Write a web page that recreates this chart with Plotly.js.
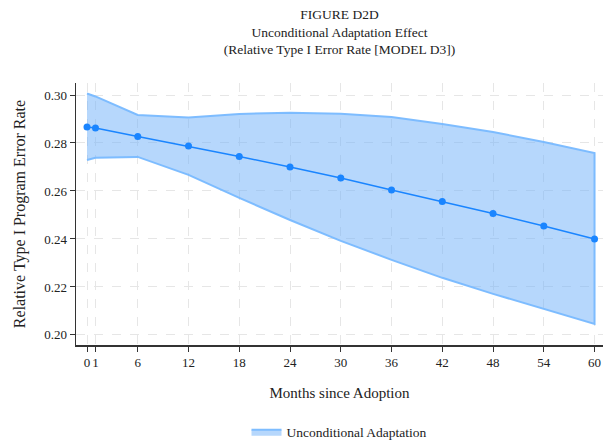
<!DOCTYPE html>
<html><head><meta charset="utf-8">
<script src="https://cdn.plot.ly/plotly-3.0.1.min.js"></script>
<style>body{margin:0;padding:0;background:#fff}#chart{width:604px;height:443px}</style>
</head><body><div id="chart"></div>
<script>
var months = [0, 1, 6, 12, 18, 24, 30, 36, 42, 48, 54, 60];
var estimate = [0.2867, 0.2862, 0.2827, 0.2787, 0.2744, 0.2700, 0.2654, 0.2604, 0.2556, 0.2506, 0.2454, 0.2400];
var upper = [0.3006, 0.2994, 0.2917, 0.2906, 0.2921, 0.2926, 0.2922, 0.2908, 0.2879, 0.2846, 0.2804, 0.2758];
var lower = [0.2729, 0.2738, 0.2742, 0.2667, 0.2571, 0.2479, 0.2392, 0.2313, 0.2238, 0.2171, 0.2108, 0.2046];
var xTicks = [0, 1, 6, 12, 18, 24, 30, 36, 42, 48, 54, 60];
var yTicks = [0.20, 0.22, 0.24, 0.26, 0.28, 0.30];
var seriesName = "Unconditional Adaptation";

var font = "Liberation Serif, serif";
var bandX = months.concat(months.slice().reverse());
var bandY = upper.concat(lower.slice().reverse());

var traces = [
  {x: bandX, y: bandY, type: 'scatter', mode: 'lines', fill: 'toself',
   fillcolor: 'rgba(110,175,250,0.5)', line: {color: 'rgba(120,185,255,0.95)', width: 2},
   name: seriesName, showlegend: true, hoverinfo: 'skip'},
  {x: months, y: estimate, type: 'scatter', mode: 'lines+markers',
   line: {color: '#1a85ff', width: 1.5}, marker: {color: '#1a85ff', size: 7},
   showlegend: false}
];

var layout = {
  width: 604, height: 443,
  margin: {l: 76, r: 1, t: 83, b: 98, autoexpand: false},
  paper_bgcolor: '#fff', plot_bgcolor: '#fff',
  font: {family: font, color: '#222', size: 13},
  title: {text: "FIGURE D2D<br>Unconditional Adaptation Effect<br>(Relative Type I Error Rate [MODEL D3])",
          font: {family: font, size: 13.5, color: '#222'}, x: 0.5, xref: 'paper',
          y: 0.957, yref: 'container', yanchor: 'middle'},
  xaxis: {range: [-1.3, 61], tickvals: xTicks, ticktext: xTicks.map(String), tickangle: 0, automargin: false,
          ticks: 'outside', ticklen: 5, tickcolor: '#333', showline: true, linecolor: '#333', linewidth: 1.5,
          showgrid: true, gridcolor: '#e6e6e6', griddash: 'dash', gridwidth: 1, zeroline: false,
          tickfont: {family: font, size: 13},
          title: {text: "Months since Adoption", font: {family: font, size: 15}, standoff: 18}},
  yaxis: {range: [0.1958, 0.305], tickvals: yTicks, ticktext: yTicks.map(function(v){return v.toFixed(2);}), automargin: false,
          ticks: 'outside', ticklen: 5, tickcolor: '#333', showline: true, linecolor: '#333', linewidth: 1.5,
          showgrid: true, gridcolor: '#e6e6e6', griddash: 'dash', gridwidth: 1, zeroline: false,
          tickfont: {family: font, size: 13},
          title: {text: "Relative Type I Program Error Rate", font: {family: font, size: 16}, standoff: 14}},
  legend: {orientation: 'h', x: 0.5, xanchor: 'center', y: 0.025, yref: 'container', yanchor: 'middle',
           font: {family: font, size: 13.5}},
  showlegend: true
};
Plotly.newPlot('chart', traces, layout, {displayModeBar: false, staticPlot: true});
</script></body></html>
